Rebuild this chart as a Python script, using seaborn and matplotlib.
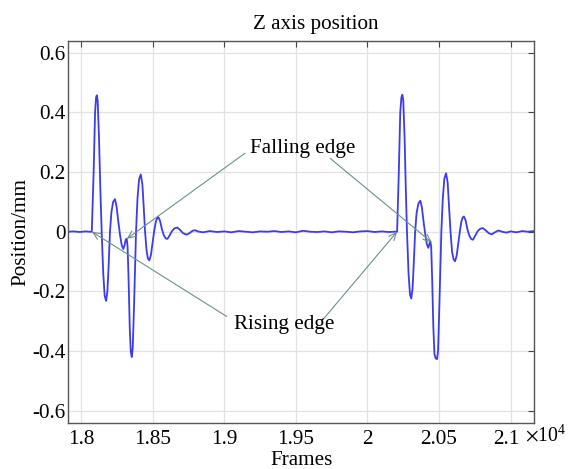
import numpy as np
import pandas as pd
import matplotlib
matplotlib.use("Agg")
import matplotlib.pyplot as plt
import matplotlib.transforms as mtransforms
import seaborn as sns

# Z-axis position trace (frames, mm)
lead_frames = [17911, 17950, 17990, 18030, 18060, 18075]
lead_pos = [0.0, 0.001, -0.001, 0.001, 0.0, 0.0]

first_burst_frames = [18088, 18098, 18105, 18110, 18116, 18125, 18135, 18144,
                      18155, 18165, 18175, 18184, 18193, 18202, 18212, 18224,
                      18237, 18248, 18260, 18272, 18284, 18295, 18304, 18312,
                      18319, 18325, 18332, 18340, 18347, 18354, 18361, 18370,
                      18384, 18394, 18405, 18417, 18428, 18438, 18447, 18458,
                      18467, 18477, 18488, 18500, 18510, 18522, 18532, 18540,
                      18552, 18565, 18578, 18592, 18603, 18618, 18635, 18652,
                      18672, 18692, 18712, 18738, 18760, 18778, 18796, 18815]
first_burst_pos = [0.20, 0.40, 0.45, 0.457, 0.44, 0.32, 0.14, 0.0,
                   -0.14, -0.215, -0.232, -0.20, -0.11, 0.0, 0.065, 0.10,
                   0.109, 0.085, 0.035, -0.01, -0.045, -0.058, -0.045, -0.026,
                   -0.024, -0.05, -0.16, -0.32, -0.40, -0.42, -0.39, -0.25,
                   0.0, 0.11, 0.175, 0.192, 0.16, 0.08, 0.0, -0.065,
                   -0.09, -0.096, -0.078, -0.035, 0.0, 0.033, 0.046, 0.049,
                   0.036, 0.008, -0.012, -0.023, -0.024, -0.013, 0.002, 0.011,
                   0.014, 0.006, -0.005, -0.010, -0.004, 0.003, 0.005, 0.001]

rest_frames = [18850, 18900, 18950, 19000, 19050, 19100, 19150, 19200, 19250,
               19300, 19350, 19400, 19450, 19500, 19550, 19600, 19650, 19700,
               19750, 19800, 19850, 19900, 19950, 20000, 20050, 20100, 20150,
               20190, 20207]
rest_pos = [-0.002, 0.002, -0.001, 0.001, -0.002, 0.002, 0.0, -0.002, 0.001,
            0.0, 0.002, -0.001, 0.001, -0.002, 0.003, 0.0, -0.001, 0.001,
            -0.002, 0.001, 0.0, -0.002, 0.001, 0.002, -0.001, 0.001, -0.001,
            0.0, 0.0]

second_burst_frames = [20219, 20229, 20237, 20244, 20250, 20259, 20268, 20276,
                       20287, 20297, 20306, 20315, 20324, 20333, 20343, 20356,
                       20369, 20380, 20392, 20404, 20415, 20425, 20432, 20439,
                       20445, 20452, 20460, 20468, 20477, 20486, 20493, 20502,
                       20516, 20526, 20537, 20549, 20560, 20570, 20580, 20591,
                       20602, 20612, 20623, 20635, 20645, 20656, 20666, 20674,
                       20686, 20699, 20712, 20726, 20737, 20752, 20770, 20788,
                       20807, 20827, 20847, 20868, 20890, 20914]
second_burst_pos = [0.20, 0.40, 0.45, 0.459, 0.44, 0.32, 0.14, 0.0,
                    -0.14, -0.21, -0.224, -0.19, -0.10, 0.0, 0.062, 0.095,
                    0.104, 0.082, 0.033, -0.01, -0.042, -0.054, -0.042, -0.032,
                    -0.05, -0.16, -0.32, -0.41, -0.425, -0.427, -0.40, -0.25,
                    0.0, 0.11, 0.178, 0.196, 0.165, 0.08, 0.0, -0.068,
                    -0.093, -0.099, -0.08, -0.036, 0.0, 0.035, 0.048, 0.051,
                    0.037, 0.006, -0.014, -0.025, -0.027, -0.014, 0.002, 0.010,
                    0.012, 0.004, -0.005, -0.009, -0.002, 0.004]

tail_frames = [20940, 20970, 21000, 21040, 21080, 21120, 21163]
tail_pos = [0.0, -0.003, 0.001, -0.002, 0.002, 0.0, 0.002]

x_ticks = [18000, 18500, 19000, 19500, 20000, 20500, 21000]
x_tick_labels = ["1.8", "1.85", "1.9", "1.95", "2", "2.05", "2.1"]
y_ticks = [-0.6, -0.4, -0.2, 0.0, 0.2, 0.4, 0.6]
y_tick_labels = ["-0.6", "-0.4", "-0.2", "0", "0.2", "0.4", "0.6"]

frames = lead_frames + first_burst_frames + rest_frames + second_burst_frames + tail_frames
positions = lead_pos + first_burst_pos + rest_pos + second_burst_pos + tail_pos
df = pd.DataFrame({"Frames": frames, "Position": positions})

FS = 15.2

sns.set_theme(style="whitegrid")
plt.rcParams["font.family"] = ["Liberation Serif", "DejaVu Serif"]
plt.rcParams["mathtext.fontset"] = "stix"

fig = plt.figure(figsize=(5.70, 4.69), dpi=100)
fig.patch.set_facecolor("white")
ax = fig.add_axes([68.3 / 570, 1 - 422.7 / 469, (534 - 68.3) / 570, (422.7 - 40.7) / 469])
ax.set_facecolor("white")

sns.lineplot(data=df, x="Frames", y="Position", ax=ax, sort=False,
             estimator=None, color="#3c3cec", linewidth=1.3)

ax.set_xlim(17911, 21163)
ax.set_ylim(-0.64, 0.64)
ax.set_xticks(x_ticks)
ax.set_xticklabels(x_tick_labels)
ax.set_yticks(y_ticks)
ax.set_yticklabels(y_tick_labels)

ax.grid(True, color="#e2e2e2", linewidth=0.9)
for s in ax.spines.values():
    s.set_visible(True)
    s.set_color("#555555")
    s.set_linewidth(1.0)
ax.tick_params(direction="in", length=4, width=0.8, color="#444444",
               top=True, right=True, labelsize=FS, labelcolor="black", pad=2)
ax.tick_params(axis="x", pad=5)

# last x label sits a little left, making room for the exponent
last_lbl = ax.get_xticklabels()[-1]
last_lbl.set_transform(last_lbl.get_transform() +
                       mtransforms.ScaledTranslation(-4 / 100, 0, fig.dpi_scale_trans))

ax.set_xlabel("Frames", fontsize=FS, color="black", labelpad=2)
ax.set_ylabel("Position/mm", fontsize=FS, color="black", labelpad=1)
fig.text(316 / 570, 1 - 24 / 469, "Z axis position", fontsize=FS,
         ha="center", va="center", color="black")
fig.text(525 / 570, 1 - 436 / 469, r"$\times\mathregular{10^{4}}$", fontsize=FS - 1,
         ha="left", va="center", color="black")

# annotation arrows
arrow_color = "#6a9090"
arrow_kw = dict(arrowstyle="->,head_length=0.45,head_width=0.2",
                color=arrow_color, lw=0.8, shrinkA=0, shrinkB=0)
ax.annotate("", xy=(first_burst_frames[24], first_burst_pos[24]), xytext=(19145, 0.263),
            arrowprops=arrow_kw)
ax.annotate("", xy=(20449, -0.036), xytext=(19739, 0.246), arrowprops=arrow_kw)
ax.annotate("", xy=(lead_frames[-1], lead_pos[-1]), xytext=(19017, -0.284),
            arrowprops=arrow_kw)
ax.annotate("", xy=(rest_frames[-1], rest_pos[-1]), xytext=(19688, -0.295),
            arrowprops=arrow_kw)
ax.text(19180, 0.280, "Falling edge", fontsize=FS, ha="left", va="center",
        color="black")
ax.text(19068, -0.31, "Rising edge", fontsize=FS, ha="left", va="center",
        color="black")

fig.savefig("out.png", dpi=100, facecolor="white")
